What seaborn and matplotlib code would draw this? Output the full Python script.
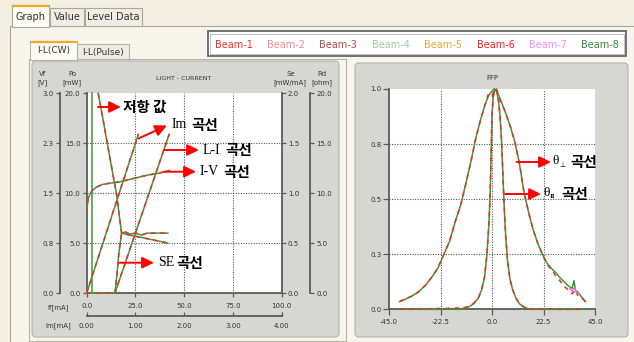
import matplotlib
matplotlib.use('Agg')
import matplotlib.pyplot as plt
from matplotlib.patches import Rectangle, FancyBboxPatch
import seaborn as sns

# ---------------- data ----------------
tab_labels = ['Graph', 'Value', 'Level Data']
subtab_labels = ['I-L(CW)', 'I-L(Pulse)']
beam_labels = ['Beam-1', 'Beam-2', 'Beam-3', 'Beam-4', 'Beam-5', 'Beam-6', 'Beam-7', 'Beam-8']
beam_colors = ['#ff2a2a', '#f08c8c', '#b04a4a', '#9ccf9c', '#e2a93c', '#ff1e1e', '#f08ef0', '#2f8f2f']

if_ticks = [0, 25, 50, 75, 100]
if_ticklabels = ['0.0', '25.0', '50.0', '75.0', '100.0']
im_ticks = [0, 1, 2, 3, 4]
im_ticklabels = ['0.00', '1.00', '2.00', '3.00', '4.00']
po_ticks = [0, 5, 10, 15, 20]
po_ticklabels = ['0.0', '5.0', '10.0', '15.0', '20.0']
vf_ticks = [0, 0.75, 1.5, 2.25, 3.0]
vf_ticklabels = ['0.0', '0.8', '1.5', '2.3', '3.0']
se_ticks = [0, 0.5, 1.0, 1.5, 2.0]
se_ticklabels = ['0.0', '0.5', '1.0', '1.5', '2.0']
rd_ticks = [0, 5, 10, 15, 20]
rd_ticklabels = ['0.0', '5.0', '10.0', '15.0', '20.0']
ffp_xticks = [-45, -22.5, 0, 22.5, 45]
ffp_xticklabels = ['-45.0', '-22.5', '0.0', '22.5', '45.0']
ffp_yticks = [0, 0.25, 0.5, 0.75, 1.0]
ffp_yticklabels = ['0.0', '0.3', '0.5', '0.8', '1.0']

# LIGHT - CURRENT curves
li_if = [0.0, 14.5, 42.3]                 # L-I : Po [mW] vs If [mA]
li_po = [0.0, 0.0, 15.9]
im_ma = [0.0, 0.5, 1.06]                  # Im curve : Po [mW] vs Im [mA]
im_po = [0.0, 7.5, 15.9]
iv_if = [0, 0.8, 1.7, 3, 5, 8, 12, 17, 24, 31, 37, 42.5]   # I-V : Vf [V]
iv_vf = [1.23, 1.425, 1.485, 1.545, 1.59, 1.63, 1.65, 1.67, 1.72, 1.77, 1.80, 1.84]
se_if = [0, 14.5, 15.5, 16.5, 17.9, 20, 22, 25, 28, 31, 35, 38, 41.6]   # SE [mW/mA]
se_val = [0, 0, 0.18, 0.40, 0.60, 0.61, 0.59, 0.60, 0.58, 0.60, 0.60, 0.60, 0.60]
rd_if = [5.9, 8, 10, 12.5, 15.4, 16.8, 17.9, 22, 27, 32, 37, 41.6]      # Rd [ohm]
rd_ohm = [20, 17.8, 15.6, 12.9, 9.8, 7.6, 6.0, 5.8, 5.6, 5.4, 5.2, 5.0]
mark_if = [2.7, 2.7]
mark_po = [0, 20]

# FFP curves
perp_ang = [-40.4, -38, -35, -32, -29, -26, -23.5, -21, -18.5, -16, -13.5, -11, -9, -7, -5, -3,
            -1.5, 0, 1, 2, 3, 4.5, 6, 8, 10, 12, 14, 16, 18, 20, 22, 24, 26, 28, 30, 32, 33.5,
            35, 35.8, 36.5, 37.3, 38.5, 39.5, 40.8]
perp_green = [0.035, 0.045, 0.06, 0.08, 0.11, 0.15, 0.19, 0.25, 0.31, 0.40, 0.48, 0.59, 0.68,
              0.78, 0.86, 0.93, 0.97, 0.99, 1.0, 0.99, 0.97, 0.93, 0.89, 0.83, 0.76, 0.66, 0.53,
              0.44, 0.36, 0.30, 0.25, 0.21, 0.185, 0.165, 0.14, 0.12, 0.105, 0.095, 0.13, 0.085,
              0.08, 0.065, 0.05, 0.035]
perp_red = [0.035, 0.047, 0.06, 0.08, 0.11, 0.15, 0.19, 0.25, 0.31, 0.40, 0.48, 0.59, 0.68,
            0.78, 0.86, 0.93, 0.98, 0.97, 0.99, 1.0, 0.96, 0.93, 0.89, 0.83, 0.76, 0.66, 0.53,
            0.44, 0.36, 0.30, 0.25, 0.205, 0.18, 0.15, 0.125, 0.10, 0.085, 0.07, 0.08, 0.09,
            0.065, 0.06, 0.05, 0.035]
pink_ang = [34, 35, 36, 37, 38]
pink_val = [0.095, 0.08, 0.10, 0.075, 0.07]
par_ang = [-40.4, -20, -15, -12, -10, -8, -6, -4.5, -3.2, -2.2, -1.4, -0.8, -0.4, 0, 0.5, 1.2,
           2, 2.8, 3.5, 4.2, 4.8, 5.4, 6, 6.8, 7.8, 9, 10.5, 12, 14, 16, 18, 40.8]
par_green = [0, 0, 0, 0.005, 0.012, 0.025, 0.05, 0.09, 0.15, 0.25, 0.38, 0.52, 0.70, 0.88, 0.96,
             1.0, 0.99, 0.95, 0.88, 0.76, 0.60, 0.45, 0.33, 0.22, 0.14, 0.09, 0.05, 0.025, 0.01,
             0.003, 0, 0]
par_red = [0, 0.004, 0.006, 0.008, 0.014, 0.027, 0.05, 0.09, 0.15, 0.25, 0.38, 0.52, 0.70, 0.88,
           0.97, 0.99, 1.0, 0.95, 0.88, 0.76, 0.60, 0.45, 0.33, 0.22, 0.14, 0.09, 0.05, 0.025,
           0.01, 0.003, 0, 0]

# ---------------- style ----------------
plt.rcParams['font.family'] = ['DejaVu Sans']
KR = ['Noto Sans CJK KR', 'DejaVu Sans']
SERIF = ['Liberation Serif', 'DejaVu Serif']
GREEN = '#3a9a3a'
RED = '#e8302a'
AXC = '#5a5a5a'
TXT = '#333333'
GRIDC = '#555555'

W, H = 634, 342
fig = plt.figure(figsize=(W / 100, H / 100), dpi=100, facecolor='#f2efe0')

bg = fig.add_axes([0, 0, 1, 1])
bg.set_xlim(0, W)
bg.set_ylim(H, 0)
bg.axis('off')


def rect(x0, y0, x1, y1, fc, ec='none', lw=0.8, z=1, rounded=0):
    if rounded:
        p = FancyBboxPatch((x0, y0), x1 - x0, y1 - y0,
                           boxstyle=f'round,pad=0,rounding_size={rounded}',
                           fc=fc, ec=ec, lw=lw, zorder=z)
    else:
        p = Rectangle((x0, y0), x1 - x0, y1 - y0, fc=fc, ec=ec, lw=lw, zorder=z)
    bg.add_patch(p)


# tab control
rect(10, 26, 640, 350, '#f7f5ec', ec='#aaa898')
rect(12, 5, 49, 27, '#fcfbf6', ec='#aaa898', z=2)
bg.plot([13, 48], [5.6, 5.6], color='#f0a830', lw=1.6, zorder=3)
rect(50, 8, 84, 26, '#efede3', ec='#aaa898', z=2)
rect(85, 8, 142, 26, '#efede3', ec='#aaa898', z=2)
for lab, cx, cy in zip(tab_labels, [30.5, 67, 113.5], [16.5, 17.5, 17.5]):
    bg.text(cx, cy, lab, fontsize=7, color=TXT, ha='center', va='center', zorder=4)

# sub tabs
rect(29, 59, 346, 341, '#f7f5ec', ec='#b6b4a4', z=2)
rect(30, 41, 77, 60, '#fcfbf6', ec='#b6b4a4', z=3)
bg.plot([31, 76], [41.6, 41.6], color='#f0a830', lw=1.6, zorder=4)
rect(77, 44, 129, 59, '#efede3', ec='#b6b4a4', z=3)
for lab, cx, cy in zip(subtab_labels, [53.5, 103], [51, 52]):
    bg.text(cx, cy, lab, fontsize=6.5, color=TXT, ha='center', va='center', zorder=5)

# chart panels
rect(32, 61, 339, 337, '#d6d6d2', ec='#b3b3ab', z=4, rounded=4)
rect(355, 63, 628, 337, '#d6d6d2', ec='#b3b3ab', z=4, rounded=4)

# beam legend box
rect(208, 31, 626, 56, 'white', ec='#666666', lw=1.3, z=5)
rect(210, 33.5, 624, 53.5, 'none', ec='#aaaaaa', lw=0.5, z=6)
for i, (lab, c) in enumerate(zip(beam_labels, beam_colors)):
    bg.text(233.5 + i * 52.4, 45, lab, fontsize=7, color=c, ha='center', va='center', zorder=7)

# header texts of left chart
for txt, cx, cy in [('Vf', 43, 74), ('[V]', 43, 83), ('Po', 72, 74), ('[mW]', 72, 83),
                    ('Se', 291, 74), ('[mW/mA]', 290, 83), ('Rd', 322, 74), ('[ohm]', 322, 83),
                    ('If[mA]', 58, 308), ('Im[mA]', 58, 326)]:
    bg.text(cx, cy, txt, fontsize=5, color=TXT, ha='center', va='center', zorder=8)
bg.text(184, 78, 'LIGHT - CURRENT', fontsize=4.6, color=TXT, ha='center', va='center', zorder=8)
bg.text(492, 78, 'FFP', fontsize=5, color=TXT, ha='center', va='center', zorder=8)


def px_axes(x0, y0, x1, y1):
    return fig.add_axes([x0 / W, 1 - y1 / H, (x1 - x0) / W, (y1 - y0) / H])


def style_ticks(a, axis, direction='out', pad=1.5, length=3):
    a.tick_params(axis=axis, direction=direction, length=length, width=0.9, color=AXC,
                  labelsize=5, labelcolor=TXT, pad=pad)


def dual(a, x, y, green_only=False, lw=1.1):
    sns.lineplot(x=x, y=y, ax=a, color=GREEN, linewidth=lw, sort=False, estimator=None,
                 errorbar=None, zorder=3, clip_on=False)
    if not green_only:
        sns.lineplot(x=x, y=y, ax=a, color=RED, linewidth=lw, sort=False, estimator=None,
                     errorbar=None, linestyle=(0, (3, 3)), zorder=4, clip_on=False)


# ---------------- left chart ----------------
ax = px_axes(86.7, 93.3, 281.7, 293)
ax.set_facecolor('white')
for v in [25, 50, 75]:
    ax.axvline(v, color=GRIDC, ls=(0, (1, 1.3)), lw=0.8, zorder=1)
for h in [5, 10, 15]:
    ax.axhline(h, color=GRIDC, ls=(0, (1, 1.3)), lw=0.8, zorder=1)

dual(ax, mark_if, mark_po, green_only=True)
dual(ax, li_if, li_po)
ax.set_xlim(0, 100)
ax.set_ylim(0, 20)
ax.set_xticks(if_ticks, if_ticklabels)
ax.set_yticks(po_ticks, po_ticklabels)
style_ticks(ax, 'x', pad=4)
style_ticks(ax, 'y', pad=1.5)
for s in ['top', 'right']:
    ax.spines[s].set_visible(False)
for s in ['left', 'bottom']:
    ax.spines[s].set_color(AXC)
    ax.spines[s].set_linewidth(1.3)
ax.set_xlabel('')
ax.set_ylabel('')

# Vf axis
ax_vf = ax.twinx()
dual(ax_vf, iv_if, iv_vf)
ax_vf.set_ylim(0, 3)
for s in ['top', 'right', 'bottom']:
    ax_vf.spines[s].set_visible(False)
ax_vf.spines['left'].set_visible(True)
ax_vf.spines['left'].set_position(('axes', -0.137))
ax_vf.spines['left'].set_color(AXC)
ax_vf.spines['left'].set_linewidth(1.3)
ax_vf.yaxis.set_ticks_position('left')
ax_vf.set_yticks(vf_ticks, vf_ticklabels)
style_ticks(ax_vf, 'y', pad=1.5)
ax_vf.set_ylabel('')

# Se axis
ax_se = ax.twinx()
dual(ax_se, se_if, se_val)
ax_se.set_ylim(0, 2)
for s in ['top', 'left', 'bottom']:
    ax_se.spines[s].set_visible(False)
ax_se.spines['right'].set_color(AXC)
ax_se.spines['right'].set_linewidth(1.3)
ax_se.set_yticks(se_ticks, se_ticklabels)
style_ticks(ax_se, 'y', pad=1.5)
ax_se.set_ylabel('')

# Rd axis
ax_rd = ax.twinx()
dual(ax_rd, rd_if, rd_ohm)
ax_rd.set_ylim(0, 20)
for s in ['top', 'left', 'bottom']:
    ax_rd.spines[s].set_visible(False)
ax_rd.spines['right'].set_position(('axes', 1.145))
ax_rd.spines['right'].set_color(AXC)
ax_rd.spines['right'].set_linewidth(1.3)
ax_rd.set_yticks(rd_ticks, rd_ticklabels)
style_ticks(ax_rd, 'y', pad=1.5)
ax_rd.set_ylabel('')

# Im axis
ax_im = ax.twiny()
dual(ax_im, im_ma, im_po)
ax_im.set_xlim(0, 4)
for s in ['top', 'left', 'right']:
    ax_im.spines[s].set_visible(False)
ax_im.spines['bottom'].set_visible(True)
ax_im.spines['bottom'].set_position(('axes', -0.115))
ax_im.spines['bottom'].set_color(AXC)
ax_im.spines['bottom'].set_linewidth(1.3)
ax_im.xaxis.set_ticks_position('bottom')
ax_im.xaxis.set_label_position('bottom')
ax_im.set_xticks(im_ticks, im_ticklabels)
style_ticks(ax_im, 'x', direction='in', pad=5)
ax_im.set_xlabel('')
ax.set_ylim(0, 20)

# ---------------- FFP chart ----------------
axr = px_axes(389, 89, 595, 309.3)
axr.set_facecolor('white')
for v in [-22.5, 0, 22.5]:
    axr.axvline(v, color=GRIDC, ls=(0, (1, 1.3)), lw=0.8, zorder=1)
for h in [0.25, 0.5, 0.75]:
    axr.axhline(h, color=GRIDC, ls=(0, (1, 1.3)), lw=0.8, zorder=1)
sns.lineplot(x=perp_ang, y=perp_green, ax=axr, color=GREEN, linewidth=1.1, sort=False,
             estimator=None, errorbar=None, zorder=3, clip_on=False)
sns.lineplot(x=perp_ang, y=perp_red, ax=axr, color=RED, linewidth=1.1, sort=False,
             estimator=None, errorbar=None, linestyle=(0, (3, 3)), zorder=4, clip_on=False)
sns.lineplot(x=pink_ang, y=pink_val, ax=axr, color='#e070e0', linewidth=1.0, sort=False,
             estimator=None, errorbar=None, zorder=4, clip_on=False)
sns.lineplot(x=par_ang, y=par_green, ax=axr, color=GREEN, linewidth=1.1, sort=False,
             estimator=None, errorbar=None, zorder=3, clip_on=False)
sns.lineplot(x=par_ang, y=par_red, ax=axr, color=RED, linewidth=1.1, sort=False,
             estimator=None, errorbar=None, linestyle=(0, (3, 3)), zorder=4, clip_on=False)
axr.set_xlim(-45, 45)
axr.set_ylim(0, 1)
axr.set_xticks(ffp_xticks, ffp_xticklabels)
axr.set_yticks(ffp_yticks, ffp_yticklabels)
style_ticks(axr, 'x', pad=3, length=4)
style_ticks(axr, 'y', pad=1.5, length=4)
for s in ['top', 'right']:
    axr.spines[s].set_visible(False)
for s in ['left', 'bottom']:
    axr.spines[s].set_color(AXC)
    axr.spines[s].set_linewidth(1.3)
axr.set_xlabel('')
axr.set_ylabel('')

# ---------------- annotations ----------------
ov = fig.add_axes([0, 0, 1, 1], zorder=20)
ov.set_xlim(0, W)
ov.set_ylim(H, 0)
ov.axis('off')

arrow_kw = dict(arrowstyle='-|>,head_length=0.7,head_width=0.34', color='#ff0000', lw=1.4,
                shrinkA=0, shrinkB=0, mutation_scale=10)


def arrow(x0, y0, x1, y1):
    ov.annotate('', xy=(x1, y1), xytext=(x0, y0), arrowprops=arrow_kw)


KS = 10.5
SS = 10

arrow(98, 107, 121, 107)
ov.text(123, 107, '저항 값', family=KR, fontweight='bold', fontsize=KS, va='center', ha='left')

arrow(138.5, 138.5, 167, 125.5)
ov.text(171.5, 125, 'Im', family=SERIF, fontsize=SS, va='center', ha='left')
ov.text(191, 125, '곡선', family=KR, fontweight='bold', fontsize=KS, va='center', ha='left')

arrow(164, 150, 199, 150)
ov.text(203, 150, 'L-I', family=SERIF, fontsize=SS, va='center', ha='left')
ov.text(225, 150, '곡선', family=KR, fontweight='bold', fontsize=KS, va='center', ha='left')

arrow(164, 171.7, 196, 171.7)
ov.text(200, 171.7, 'I-V', family=SERIF, fontsize=SS, va='center', ha='left')
ov.text(223, 171.7, '곡선', family=KR, fontweight='bold', fontsize=KS, va='center', ha='left')

arrow(119.3, 262.7, 154, 262.7)
ov.text(158, 262.7, 'SE', family=SERIF, fontsize=SS, va='center', ha='left')
ov.text(176.5, 262.7, '곡선', family=KR, fontweight='bold', fontsize=KS, va='center', ha='left')

arrow(516.7, 162, 551, 162)
ov.text(552.5, 161, 'θ', family=SERIF, fontsize=9.5, va='center', ha='left')
ov.text(559, 165, '⊥', family=['DejaVu Sans'], fontsize=5, va='center', ha='left')
ov.text(570, 162, '곡선', family=KR, fontweight='bold', fontsize=KS, va='center', ha='left')

arrow(505, 194, 541, 194)
ov.text(543.5, 193, 'θ', family=SERIF, fontsize=9.5, va='center', ha='left')
ov.text(549.5, 197, 'II', family=SERIF, fontsize=5, fontweight='bold', va='center', ha='left')
ov.text(561.5, 194, '곡선', family=KR, fontweight='bold', fontsize=KS, va='center', ha='left')

fig.savefig('out.png', dpi=100, facecolor=fig.get_facecolor())
